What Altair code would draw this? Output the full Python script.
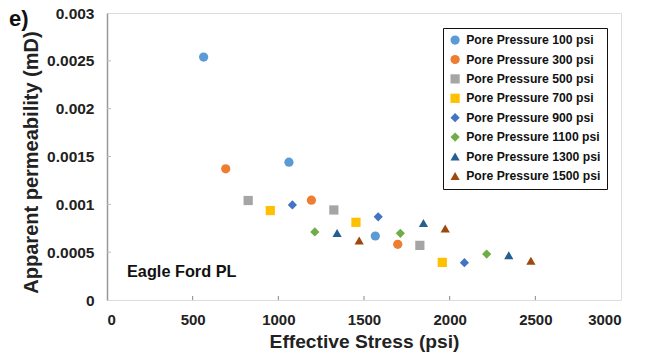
import altair as alt
import pandas as pd

series = ["Pore Pressure 100 psi", "Pore Pressure 300 psi", "Pore Pressure 500 psi",
          "Pore Pressure 700 psi", "Pore Pressure 900 psi", "Pore Pressure 1100 psi",
          "Pore Pressure 1300 psi", "Pore Pressure 1500 psi"]
colors = ["#5B9BD5", "#ED7D31", "#A5A5A5", "#FFC000", "#4472C4", "#70AD47", "#255E91", "#9E480E"]
shapes = ["circle", "circle", "square", "square", "diamond", "diamond", "triangle-up", "triangle-up"]
sizes = [85, 85, 80, 80, 55, 55, 75, 75]

stress = [
    [564, 1062, 1566],
    [693, 1193, 1697],
    [824, 1324, 1826],
    [953, 1453, 1957],
    [1082, 1583, 2086],
    [1213, 1712, 2216],
    [1343, 1847, 2345],
    [1472, 1974, 2474],
]
perm = [
    [0.002539, 0.001441, 0.000669],
    [0.001371, 0.001043, 0.000582],
    [0.001040, 0.000941, 0.000571],
    [0.000935, 0.000812, 0.000393],
    [0.000994, 0.000870, 0.000390],
    [0.000711, 0.000697, 0.000480],
    [0.000700, 0.000805, 0.000468],
    [0.000622, 0.000748, 0.000410],
]

x_ticks = [0, 500, 1000, 1500, 2000, 2500, 3000]
y_ticks = [0, 0.0005, 0.001, 0.0015, 0.002, 0.0025, 0.003]

rows = []
for s, xs, ys in zip(series, stress, perm):
    for a, b in zip(xs, ys):
        rows.append({"series": s, "stress": a, "perm": b})
df = pd.DataFrame(rows)

FONT = "Liberation Sans"

xscale = alt.Scale(domain=[0, 3000], nice=False, zero=False)
yscale = alt.Scale(domain=[0, 0.003], nice=False, zero=False)

points = alt.Chart(df).mark_point(filled=True, opacity=1, strokeWidth=0).encode(
    x=alt.X("stress:Q", scale=xscale,
            axis=alt.Axis(values=x_ticks, title="Effective Stress (psi)", grid=False, format="d",
                          ticks=False, domain=False, labelFontSize=15, labelFontWeight="bold",
                          labelFont=FONT, labelColor="#222", labelPadding=12,
                          titleFont=FONT, titleFontSize=19.2, titleFontWeight="bold",
                          titleColor="#222", titlePadding=5)),
    y=alt.Y("perm:Q", scale=yscale,
            axis=alt.Axis(values=y_ticks, title="Apparent permeability (mD)", grid=False,
                          ticks=False, domain=True, domainColor="#999", domainWidth=1.5,
                          labelFontSize=15.5, labelFontWeight="bold", labelFont=FONT,
                          labelColor="#222", labelPadding=13,
                          labelExpr="datum.value == 0 ? '0' : format(datum.value, '')",
                          titleFont=FONT, titleFontSize=20, titleFontWeight="bold",
                          titleColor="#222", titlePadding=5, titleY=149)),
    color=alt.Color("series:N", scale=alt.Scale(domain=series, range=colors),
                    legend=alt.Legend(title=None, orient="none", legendX=336, legendY=15,
                                      strokeColor="#111", padding=6,
                                      fillColor="white", labelFont=FONT, labelFontSize=12.2,
                                      labelFontWeight="bold", labelColor="#111",
                                      symbolSize=45, symbolStrokeWidth=0, rowPadding=6.4,
                                      labelOffset=5, labelLimit=250)),
    shape=alt.Shape("series:N", scale=alt.Scale(domain=series, range=shapes)),
    size=alt.Size("series:N", scale=alt.Scale(domain=series, range=sizes), legend=None),
)

xt = pd.DataFrame({"v": x_ticks[1:-1]})
yt = pd.DataFrame({"v": y_ticks[1:-1]})
xtick = alt.Chart(xt).mark_rule(color="#888", strokeWidth=1).encode(
    x=alt.X("v:Q", scale=xscale), y=alt.value(287), y2=alt.value(283))
ytick = alt.Chart(yt).mark_rule(color="#bbb", strokeWidth=1).encode(
    y=alt.Y("v:Q", scale=yscale), x=alt.value(0), x2=alt.value(4))

label = alt.Chart(pd.DataFrame({"t": ["Eagle Ford PL"]})).mark_text(
    font=FONT, fontSize=16.3, fontWeight="bold", align="left", baseline="middle", color="#111"
).encode(text="t:N", x=alt.value(20), y=alt.value(259))

panel = alt.Chart(pd.DataFrame({"t": ["e)"]})).mark_text(
    font=FONT, fontSize=22, fontWeight="bold", align="left", baseline="middle", color="#111"
).encode(text="t:N", x=alt.value(-98), y=alt.value(6))

chart = alt.layer(ytick, xtick, points, label, panel).properties(
    width=514, height=287,
    autosize=alt.AutoSizeParams(type="none"),
    padding={"left": 107, "top": 13, "right": 31, "bottom": 58},
).configure_view(stroke="#111", strokeWidth=2).configure_legend(strokeWidth=1.5).configure(background="white")

chart.save("out.html", embed_options={"renderer": "svg", "actions": False})
